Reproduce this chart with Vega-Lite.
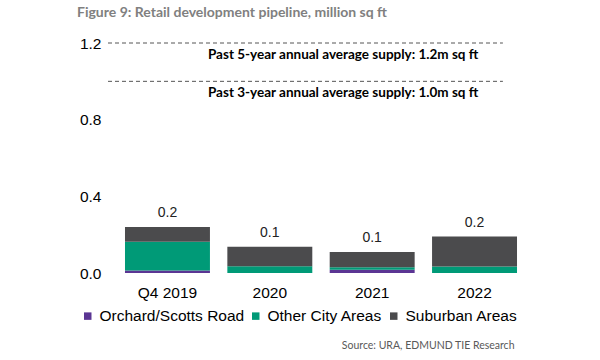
{
  "$schema": "https://vega.github.io/schema/vega-lite/v6.json",
  "width": 426,
  "height": 230,
  "autosize": {"type": "none"},
  "padding": {"left": 108, "top": 43, "right": 66, "bottom": 87},
  "background": "white",
  "title": {
    "text": "Figure 9: Retail development pipeline, million sq ft",
    "anchor": "start",
    "frame": "group",
    "dx": -31,
    "offset": 16,
    "font": "Lato",
    "fontSize": 14,
    "fontWeight": "bold",
    "color": "#808080"
  },
  "config": {"view": {"stroke": null}, "font": "Liberation Sans"},
  "resolve": {"scale": {"x": "independent"}},
  "layer": [
    {
      "data": {
        "values": [
          {"period": "Q4 2019", "area": "Orchard/Scotts Road", "value": 0.013},
          {"period": "Q4 2019", "area": "Other City Areas", "value": 0.15},
          {"period": "Q4 2019", "area": "Suburban Areas", "value": 0.077},
          {"period": "2020", "area": "Orchard/Scotts Road", "value": 0.0},
          {"period": "2020", "area": "Other City Areas", "value": 0.035},
          {"period": "2020", "area": "Suburban Areas", "value": 0.102},
          {"period": "2021", "area": "Orchard/Scotts Road", "value": 0.017},
          {"period": "2021", "area": "Other City Areas", "value": 0.013},
          {"period": "2021", "area": "Suburban Areas", "value": 0.08},
          {"period": "2022", "area": "Orchard/Scotts Road", "value": 0.0},
          {"period": "2022", "area": "Other City Areas", "value": 0.034},
          {"period": "2022", "area": "Suburban Areas", "value": 0.156}
        ]
      },
      "layer": [
        {
          "mark": {"type": "bar"},
          "encoding": {
            "x": {
              "field": "period",
              "type": "nominal",
              "sort": ["Q4 2019", "2020", "2021", "2022"],
              "scale": {"paddingInner": 0.17, "paddingOuter": 0.166},
              "axis": {
                "labelAngle": 0,
                "labelFontSize": 15.5,
                "labelColor": "#000000",
                "labelPadding": 12,
                "domain": false,
                "ticks": false,
                "title": "Source: URA, EDMUND TIE Research",
                "titleFont": "Lato",
                "titleFontSize": 10.5,
                "titleFontWeight": "normal",
                "titleColor": "#595959",
                "titleAlign": "right",
                "titleAnchor": "end",
                "titleBaseline": "middle",
                "titleX": 406,
                "titleY": 72
              }
            },
            "y": {
              "field": "value",
              "type": "quantitative",
              "stack": "zero",
              "scale": {"domain": [0, 1.2]},
              "axis": {
                "values": [0, 0.4, 0.8, 1.2],
                "format": ".1f",
                "labelFontSize": 15.5,
                "labelColor": "#000000",
                "labelPadding": 7,
                "domain": false,
                "ticks": false,
                "grid": false,
                "title": null
              }
            },
            "order": {"field": "area", "sort": "ascending"},
            "color": {
              "field": "area",
              "type": "nominal",
              "scale": {
                "domain": ["Orchard/Scotts Road", "Other City Areas", "Suburban Areas"],
                "range": ["#5b3593", "#009a77", "#4b4b4d"]
              },
              "legend": {
                "orient": "none",
                "direction": "horizontal",
                "columns": 3,
                "legendX": -28,
                "legendY": 265,
                "title": null,
                "symbolType": "square",
                "symbolSize": 56,
                "symbolStrokeWidth": 0,
                "labelFontSize": 15.5,
                "labelColor": "#000000",
                "labelOffset": 4,
                "labelLimit": 0,
                "columnPadding": 3
              }
            }
          }
        },
        {
          "transform": [
            {"aggregate": [{"op": "sum", "field": "value", "as": "total"}], "groupby": ["period"]}
          ],
          "mark": {"type": "text", "dy": -14, "fontSize": 14, "color": "#222222"},
          "encoding": {
            "x": {"field": "period", "type": "nominal", "sort": ["Q4 2019", "2020", "2021", "2022"]},
            "y": {"field": "total", "type": "quantitative"},
            "text": {"field": "total", "type": "quantitative", "format": ".1f"}
          }
        }
      ]
    },
    {
      "data": {
        "values": [
          {"value": 1.2, "label": "Past 5-year annual average supply: 1.2m sq ft"},
          {"value": 1.0, "label": "Past 3-year annual average supply: 1.0m sq ft"}
        ]
      },
      "layer": [
        {
          "mark": {"type": "rule", "strokeDash": [4, 3], "strokeWidth": 1, "color": "#555555"},
          "encoding": {
            "x": {"datum": 0, "type": "quantitative", "scale": {"domain": [0, 1]}, "axis": null},
            "x2": {"datum": 0.927},
            "y": {"field": "value", "type": "quantitative"}
          }
        },
        {
          "mark": {"type": "text", "dy": 12, "font": "Lato", "fontSize": 13.5, "fontWeight": "bold", "color": "#000000"},
          "encoding": {
            "x": {"datum": 0.552, "type": "quantitative", "scale": {"domain": [0, 1]}, "axis": null},
            "y": {"field": "value", "type": "quantitative"},
            "text": {"field": "label", "type": "nominal"}
          }
        }
      ]
    }
  ]
}
